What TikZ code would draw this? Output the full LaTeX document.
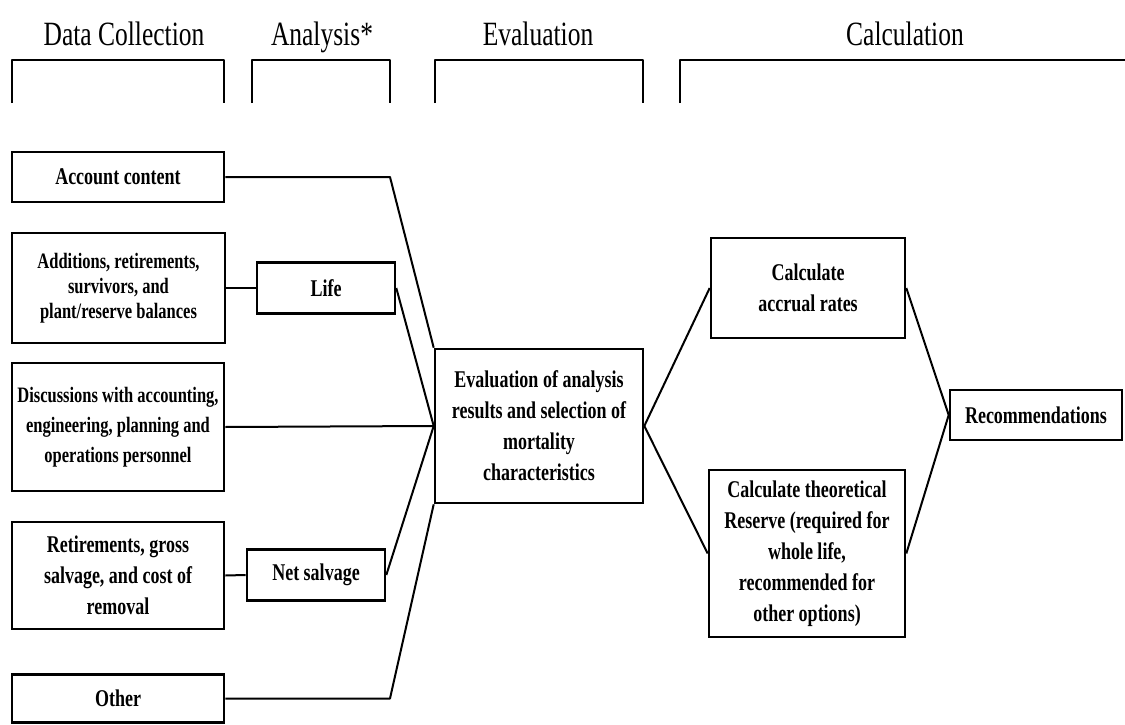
\documentclass[tikz,border=0pt]{standalone}
\usepackage{fontspec}
\setmainfont{Liberation Serif}[FakeStretch=0.75]
\tikzset{
  stage/.style={draw, line width=2.6pt, inner sep=0pt, align=center,
    font=\fontsize{24}{31}\selectfont\bfseries},
  heading/.style={anchor=base, font=\fontsize{34}{40}\selectfont},
  link/.style={line width=2pt, line join=round},
}
\begin{document}
\begin{tikzpicture}[x=1pt, y=-1pt]
	\useasboundingbox (0,0) rectangle (1125,725);
	
	% phase headings and brackets
	\node[heading] (hdata) at (124,46) {Data Collection};
	\node[heading] (hanal) at (322,46) {Analysis*};
	\node[heading] (heval) at (538,46) {Evaluation};
	\node[heading] (hcalc) at (905,46) {Calculation};
	\foreach \l/\r in {12/224, 252/390, 435/643}
		\draw[link, line width=2.4pt] (\l,103) -- (\l,60) -- (\r,60) -- (\r,103);
	\draw[link, line width=2.4pt] (680,103) -- (680,60) -- (1125,60);
	
	% data collection
	\node[stage, minimum width=212, minimum height=50] (acc) at (118,177) {Account content};
	\node[stage, minimum width=213, minimum height=110, font=\fontsize{22}{25}\selectfont\bfseries]
		(add) at (118.5,288) {Additions, retirements,\\survivors, and\\plant/reserve balances};
	\node[stage, minimum width=212, minimum height=128, font=\fontsize{22}{30}\selectfont\bfseries]
		(disc) at (118,427) {Discussions with accounting,\\engineering, planning and\\operations personnel};
	\node[stage, minimum width=212, minimum height=107] (ret) at (118,575.5) {Retirements, gross\\salvage, and cost of\\removal};
	\node[stage, minimum width=212, minimum height=48] (oth) at (118,698.5) {Other};
	
	% analysis
	\node[stage, minimum width=138, minimum height=51] (life) at (326,288) {Life};
	\node[stage, minimum width=138, minimum height=51] (net) at (316,575) {Net salvage};
	
	% evaluation and calculation
	\node[stage, minimum width=208, minimum height=154] (eval) at (539,426) {Evaluation of analysis\\results and selection of\\mortality\\characteristics};
	\node[stage, minimum width=194, minimum height=100] (accr) at (808,288) {Calculate\\accrual rates};
	\node[stage, minimum width=196, minimum height=167] (theo) at (807,553.5) {Calculate theoretical\\Reserve (required for\\whole life,\\recommended for\\other options)};
	\node[stage, minimum width=172, minimum height=50] (rec) at (1036,415) {Recommendations};
	
	\coordinate (acck) at (390,177);
	\coordinate (othk) at (390,698.5);
	
	\draw[link] (acc.east) -- (acck) -- (eval.north west);
	\draw[link] (add.east) -- (life.west);
	\draw[link] (ret.east) -- (net.west);
	\draw[link] (life.east) -- (eval.west);
	\draw[link] (disc.east) -- (eval.west);
	\draw[link] (net.east) -- (eval.west);
	\draw[link] (oth.east) -- (othk) -- (eval.south west);
	\draw[link] (eval.east) -- (accr.west);
	\draw[link] (eval.east) -- (theo.west);
	\draw[link] (accr.east) -- (rec.west);
	\draw[link] (theo.east) -- (rec.west);
\end{tikzpicture}
\end{document}
